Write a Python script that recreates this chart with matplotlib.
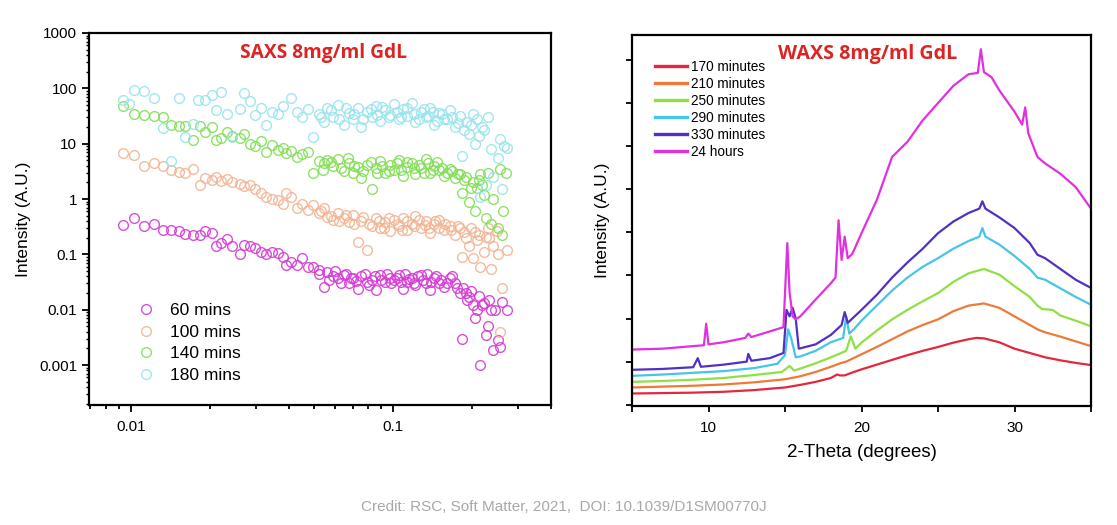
import numpy as np
import matplotlib
matplotlib.use("Agg")
import matplotlib.pyplot as plt
from matplotlib.ticker import FixedLocator, NullFormatter, LogLocator

plt.rcParams["font.family"] = ["Liberation Sans", "DejaVu Sans"]

# SAXS (q, intensity) pairs
saxs_60 = [
    (0.0093, 0.34), (0.0103, 0.45), (0.0112, 0.33), (0.0122, 0.35), (0.0132, 0.28),
    (0.0142, 0.28), (0.0153, 0.27), (0.0161, 0.23), (0.0172, 0.22), (0.0183, 0.22),
    (0.0192, 0.27), (0.0203, 0.24), (0.0211, 0.14), (0.0220, 0.16), (0.0232, 0.19),
    (0.0243, 0.14), (0.0260, 0.10), (0.0269, 0.15), (0.0284, 0.14), (0.0298, 0.13),
    (0.0313, 0.11), (0.0328, 0.10), (0.0344, 0.11), (0.0364, 0.105), (0.0380, 0.09),
    (0.0390, 0.064), (0.0409, 0.074), (0.0429, 0.064), (0.0450, 0.085), (0.0472, 0.06),
    (0.0494, 0.06), (0.0519, 0.052), (0.0544, 0.026), (0.0561, 0.049), (0.0589, 0.040),
    (0.0617, 0.037), (0.0647, 0.042), (0.0678, 0.030), (0.0700, 0.037), (0.0734, 0.024),
    (0.0757, 0.040), (0.0794, 0.032), (0.0832, 0.034), (0.0859, 0.023), (0.0887, 0.042),
    (0.0930, 0.032), (0.0975, 0.037), (0.1007, 0.034), (0.1055, 0.042), (0.109, 0.024),
    (0.1125, 0.032), (0.118, 0.037), (0.1216, 0.028), (0.1276, 0.042), (0.1337, 0.030),
    (0.138, 0.023), (0.1425, 0.037), (0.149, 0.030), (0.1567, 0.026), (0.164, 0.037),
    (0.172, 0.030), (0.180, 0.020), (0.183, 0.003), (0.189, 0.020), (0.195, 0.017),
    (0.202, 0.012), (0.205, 0.007), (0.208, 0.010), (0.215, 0.001), (0.222, 0.013),
    (0.225, 0.0035), (0.229, 0.005), (0.236, 0.010), (0.240, 0.0019), (0.252, 0.0028),
    (0.255, 0.0021), (0.259, 0.014), (0.272, 0.010),
    (0.052, 0.045), (0.057, 0.035), (0.060, 0.050), (0.063, 0.030), (0.066, 0.045),
    (0.069, 0.038), (0.072, 0.033), (0.078, 0.045), (0.081, 0.028), (0.085, 0.040),
    (0.090, 0.035), (0.095, 0.045), (0.098, 0.030), (0.103, 0.038), (0.107, 0.032),
    (0.111, 0.045), (0.115, 0.036), (0.120, 0.030), (0.124, 0.040), (0.130, 0.034),
    (0.135, 0.045), (0.140, 0.032), (0.146, 0.040), (0.152, 0.034), (0.160, 0.030),
    (0.168, 0.040), (0.175, 0.025), (0.185, 0.025), (0.192, 0.015), (0.198, 0.022),
    (0.212, 0.018), (0.218, 0.012), (0.232, 0.015), (0.245, 0.010),
]
saxs_100 = [
    (0.0093, 6.9), (0.0103, 6.2), (0.0112, 3.9), (0.0122, 4.5), (0.0132, 3.9),
    (0.0142, 3.4), (0.0153, 3.1), (0.0161, 2.9), (0.0172, 3.5), (0.0183, 1.8),
    (0.0192, 2.4), (0.0203, 2.2), (0.0211, 2.5), (0.0220, 2.1), (0.0232, 2.3),
    (0.0243, 2.0), (0.0260, 1.9), (0.0269, 1.7), (0.0284, 1.8), (0.0298, 1.5),
    (0.0313, 1.28), (0.0328, 1.1), (0.0344, 1.0), (0.0364, 0.97), (0.0380, 0.83),
    (0.0390, 1.3), (0.0409, 1.1), (0.0429, 0.68), (0.0450, 0.83), (0.0472, 0.63),
    (0.0494, 0.78), (0.0519, 0.55), (0.0544, 0.68), (0.0561, 0.48), (0.0589, 0.42),
    (0.0617, 0.55), (0.0647, 0.45), (0.0678, 0.38), (0.0700, 0.52), (0.0734, 0.17),
    (0.0757, 0.40), (0.0794, 0.12), (0.0832, 0.33), (0.0859, 0.45), (0.0887, 0.30),
    (0.0930, 0.38), (0.0975, 0.26), (0.1007, 0.42), (0.1055, 0.33), (0.109, 0.45),
    (0.1125, 0.28), (0.118, 0.36), (0.1216, 0.50), (0.1276, 0.30), (0.1337, 0.40),
    (0.138, 0.24), (0.1425, 0.35), (0.149, 0.42), (0.1567, 0.28), (0.164, 0.32),
    (0.172, 0.22), (0.180, 0.30), (0.183, 0.09), (0.189, 0.20), (0.195, 0.14),
    (0.202, 0.085), (0.205, 0.25), (0.208, 0.18), (0.215, 0.06), (0.222, 0.11),
    (0.225, 0.21), (0.229, 0.30), (0.236, 0.055), (0.240, 0.14), (0.252, 0.10),
    (0.255, 0.004), (0.259, 0.025), (0.272, 0.12),
    (0.053, 0.62), (0.058, 0.50), (0.062, 0.40), (0.066, 0.52), (0.071, 0.36),
    (0.077, 0.48), (0.081, 0.35), (0.088, 0.40), (0.092, 0.30), (0.096, 0.45),
    (0.104, 0.36), (0.108, 0.28), (0.113, 0.40), (0.120, 0.32), (0.126, 0.42),
    (0.132, 0.34), (0.137, 0.30), (0.144, 0.40), (0.150, 0.30), (0.158, 0.36),
    (0.166, 0.28), (0.176, 0.32), (0.186, 0.25), (0.198, 0.30), (0.212, 0.22),
    (0.232, 0.20), (0.248, 0.26),
]
saxs_140 = [
    (0.0093, 48), (0.0103, 35), (0.0112, 33), (0.0122, 31), (0.0132, 30),
    (0.0142, 22), (0.0153, 21), (0.0161, 21), (0.0172, 11.6), (0.0183, 21),
    (0.0192, 16.6), (0.0203, 20), (0.0211, 11.6), (0.0220, 12.5), (0.0232, 16.6),
    (0.0243, 14), (0.0260, 12.5), (0.0269, 15), (0.0284, 10), (0.0298, 8.9),
    (0.0313, 11), (0.0328, 7.2), (0.0344, 9.5), (0.0364, 7.7), (0.0380, 8.5),
    (0.0390, 6.7), (0.0409, 7.5), (0.0429, 5.8), (0.0450, 6.5), (0.0472, 7.0),
    (0.0494, 2.9), (0.0519, 4.8), (0.0544, 4.4), (0.0561, 5.0), (0.0589, 3.9),
    (0.0617, 5.3), (0.0647, 3.2), (0.0678, 4.5), (0.0700, 2.9), (0.0734, 3.8),
    (0.0757, 2.4), (0.0794, 4.2), (0.0832, 1.5), (0.0859, 3.6), (0.0887, 4.8),
    (0.0930, 3.0), (0.0975, 4.2), (0.1007, 3.4), (0.1055, 5.0), (0.109, 2.6),
    (0.1125, 3.8), (0.118, 4.4), (0.1216, 2.8), (0.1276, 3.6), (0.1337, 5.2),
    (0.138, 3.0), (0.1425, 4.0), (0.149, 3.3), (0.1567, 2.6), (0.164, 3.5),
    (0.172, 2.4), (0.180, 2.8), (0.183, 1.3), (0.189, 2.5), (0.195, 0.9),
    (0.202, 2.0), (0.205, 0.6), (0.208, 1.6), (0.215, 2.8), (0.222, 1.2),
    (0.225, 0.45), (0.229, 3.0), (0.236, 0.35), (0.240, 1.0), (0.252, 0.30),
    (0.255, 3.5), (0.259, 0.22), (0.262, 0.62), (0.270, 2.9),
    (0.054, 3.4), (0.058, 4.6), (0.063, 3.6), (0.067, 5.6), (0.071, 4.0),
    (0.077, 3.2), (0.082, 4.6), (0.087, 3.0), (0.091, 4.0), (0.096, 3.2),
    (0.103, 4.4), (0.107, 3.4), (0.113, 4.6), (0.120, 3.6), (0.125, 4.2),
    (0.131, 3.0), (0.136, 4.4), (0.142, 3.4), (0.147, 4.6), (0.153, 3.6),
    (0.160, 3.0), (0.168, 3.2), (0.176, 2.8), (0.186, 2.2), (0.198, 1.6),
    (0.212, 2.2), (0.218, 1.8),
]
saxs_180 = [
    (0.0093, 61), (0.0098, 52), (0.0103, 95), (0.0112, 88), (0.0122, 66),
    (0.0132, 19), (0.0142, 4.9), (0.0153, 66), (0.0161, 13.4), (0.0172, 23),
    (0.0180, 62), (0.0192, 61), (0.0203, 76), (0.0211, 40), (0.0220, 85),
    (0.0232, 35), (0.0243, 13.4), (0.0260, 43), (0.0269, 81), (0.0284, 60),
    (0.0298, 33), (0.0313, 45), (0.0328, 21.5), (0.0344, 38), (0.0364, 35),
    (0.0380, 48), (0.0409, 66), (0.0429, 38), (0.0450, 30), (0.0472, 42),
    (0.0494, 13.4), (0.0519, 35), (0.0544, 25), (0.0561, 44), (0.0589, 30),
    (0.0617, 50), (0.0647, 22), (0.0678, 36), (0.0700, 28), (0.0734, 45),
    (0.0757, 20), (0.0794, 38), (0.0832, 30), (0.0859, 48), (0.0887, 26),
    (0.0930, 40), (0.0975, 33), (0.1007, 52), (0.1055, 28), (0.109, 42),
    (0.1125, 32), (0.118, 55), (0.1216, 25), (0.1276, 38), (0.1337, 30),
    (0.138, 45), (0.1425, 22), (0.149, 36), (0.1567, 28), (0.164, 40),
    (0.172, 20), (0.180, 32), (0.183, 6.0), (0.189, 25), (0.195, 15),
    (0.202, 35), (0.205, 10), (0.208, 28), (0.215, 1.1), (0.222, 18),
    (0.225, 1.8), (0.229, 30), (0.236, 8.0), (0.240, 2.5), (0.252, 5.5),
    (0.255, 12), (0.259, 1.5), (0.265, 9.0), (0.272, 8.5),
    (0.053, 30), (0.058, 40), (0.062, 28), (0.066, 44), (0.071, 34),
    (0.077, 28), (0.082, 42), (0.087, 33), (0.091, 46), (0.096, 30),
    (0.103, 38), (0.107, 30), (0.113, 44), (0.120, 34), (0.125, 28),
    (0.131, 42), (0.136, 32), (0.142, 38), (0.147, 26), (0.153, 34),
    (0.160, 28), (0.168, 30), (0.176, 24), (0.186, 18), (0.198, 22),
    (0.212, 14), (0.218, 20),
]
saxs_labels = ["60 mins", "100 mins", "140 mins", "180 mins"]
saxs_colors = ["#d43cd4", "#f2b594", "#84de58", "#98e4ee"]

# WAXS traces (2-theta, intensity in arbitrary units)
x_170 = [5, 7, 9, 11, 13, 15, 16, 17, 18, 18.4, 18.6, 18.9, 19.5, 20, 21, 22, 23, 24, 25, 26,
         27, 27.5, 28, 29, 30, 31, 31.5, 32, 33, 34, 35]
y_170 = [0.26, 0.27, 0.28, 0.30, 0.34, 0.40, 0.46, 0.53, 0.62, 0.70, 0.68, 0.68, 0.76, 0.82,
         0.93, 1.04, 1.15, 1.25, 1.34, 1.44, 1.52, 1.55, 1.54, 1.45, 1.30, 1.20, 1.15, 1.10,
         1.03, 0.97, 0.92]
x_210 = [5, 7, 9, 11, 13, 15, 16, 17, 18, 18.6, 19, 20, 21, 22, 23, 24, 25, 26, 27, 28,
         29, 30, 31, 31.5, 31.7, 32, 33, 34, 35]
y_210 = [0.40, 0.42, 0.44, 0.47, 0.52, 0.59, 0.66, 0.76, 0.88, 0.96, 1.00, 1.17, 1.34, 1.52,
         1.70, 1.85, 1.98, 2.17, 2.30, 2.35, 2.25, 2.05, 1.85, 1.75, 1.72, 1.68, 1.58, 1.47, 1.36]
x_250 = [5, 7, 9, 11, 13, 14.8, 15.3, 15.6, 17, 18, 19, 19.3, 19.6, 20, 21, 22, 23, 24, 25, 26,
         27, 28, 29, 30, 31, 31.5, 31.8, 32.5, 33, 34, 35]
y_250 = [0.53, 0.55, 0.58, 0.62, 0.69, 0.76, 0.90, 0.79, 0.96, 1.10, 1.25, 1.59, 1.30, 1.44,
         1.72, 1.98, 2.20, 2.40, 2.59, 2.85, 3.05, 3.15, 3.02, 2.75, 2.50, 2.30, 2.22, 2.20,
         2.07, 1.95, 1.82]
x_290 = [5, 7, 9, 11, 13, 14.5, 15.0, 15.2, 15.4, 15.7, 16.0, 17, 18, 18.8, 19.0, 19.2, 19.5,
         20, 21, 22, 23, 24, 25, 26, 27, 27.7, 27.9, 28.1, 29, 30, 31, 31.5, 32, 33, 34, 35]
y_290 = [0.67, 0.70, 0.74, 0.78, 0.85, 0.95, 1.15, 1.75, 1.55, 1.10, 1.12, 1.25, 1.45, 1.55,
         2.05, 1.65, 1.75, 1.95, 2.30, 2.65, 2.95, 3.20, 3.40, 3.62, 3.80, 3.90, 4.10, 3.90,
         3.72, 3.45, 3.15, 2.95, 2.90, 2.70, 2.50, 2.32]
x_330 = [5, 7, 9, 9.3, 9.5, 11, 12.5, 12.6, 12.8, 14, 14.9, 15.1, 15.3, 15.5, 15.7, 15.9, 17,
         18, 18.7, 18.9, 19.1, 20, 21, 22, 23, 24, 25, 26, 27, 27.7, 27.9, 28.1, 29, 30, 31,
         31.5, 32, 33, 34, 35]
y_330 = [0.81, 0.83, 0.87, 1.08, 0.88, 0.93, 1.00, 1.18, 1.02, 1.08, 1.20, 2.20, 2.05, 2.25,
         2.00, 1.30, 1.40, 1.62, 1.85, 2.15, 1.90, 2.20, 2.55, 2.95, 3.30, 3.62, 3.98, 4.25,
         4.45, 4.55, 4.72, 4.55, 4.35, 4.10, 3.75, 3.48, 3.40, 3.15, 2.90, 2.71]
x_24h = [5, 7, 9, 9.7, 9.85, 10.0, 11, 12.4, 12.6, 12.8, 14, 14.9, 15.15, 15.3, 15.5, 15.7, 16,
         17, 18, 18.3, 18.5, 18.7, 18.9, 19.1, 19.4, 20, 21, 22, 23, 24, 25, 26, 27, 27.6, 27.8,
         28.0, 28.5, 29, 30, 30.5, 30.7, 30.9, 31.5, 32, 33, 34, 35]
y_24h = [1.28, 1.30, 1.36, 1.38, 1.88, 1.40, 1.45, 1.55, 1.65, 1.57, 1.70, 1.80, 3.75, 2.60,
         2.05, 1.98, 2.05, 2.44, 2.82, 2.95, 4.28, 3.36, 3.90, 3.40, 3.50, 3.98, 4.75, 5.75,
         6.10, 6.60, 7.00, 7.40, 7.67, 7.70, 8.25, 7.72, 7.60, 7.30, 6.80, 6.50, 6.90, 6.30,
         5.75, 5.60, 5.36, 5.05, 4.55]
waxs_labels = ["170 minutes", "210 minutes", "250 minutes", "290 minutes", "330 minutes", "24 hours"]
waxs_colors = ["#e3283e", "#ee7a3a", "#8ee045", "#45c6e6", "#5330c4", "#e030e0"]

W, H = 1117, 525
fig = plt.figure(figsize=(W / 100, H / 100), dpi=100)
TITLE_RED = "#dc2424"


def frac(x0, y0, x1, y1):
    return [x0 / W, 1 - y1 / H, (x1 - x0) / W, (y1 - y0) / H]


# ---- SAXS panel
ax1 = fig.add_axes(frac(89, 33, 551, 405))
for data, col, lab in zip([saxs_60, saxs_100, saxs_140, saxs_180], saxs_colors, saxs_labels):
    q, inten = zip(*data)
    ax1.plot(q, inten, linestyle="none", marker="o", markersize=7, markerfacecolor="none",
             markeredgecolor=col, markeredgewidth=1.0, alpha=0.9, label=lab)
ax1.set_xscale("log")
ax1.set_yscale("log")
ax1.set_xlim(0.00691, 0.40)
ax1.set_ylim(1.9e-4, 1000)
ax1.yaxis.set_major_locator(FixedLocator([0.001, 0.01, 0.1, 1, 10, 100, 1000]))
ax1.set_yticklabels(["0.001", "0.01", "0.1", "1", "10", "100", "1000"])
ax1.yaxis.set_minor_locator(LogLocator(base=10, subs=np.arange(2, 10), numticks=20))
ax1.yaxis.set_minor_formatter(NullFormatter())
ax1.xaxis.set_major_locator(FixedLocator([0.01, 0.1]))
ax1.set_xticklabels(["0.01", "0.1"])
ax1.xaxis.set_minor_locator(LogLocator(base=10, subs=np.arange(2, 10), numticks=20))
ax1.xaxis.set_minor_formatter(NullFormatter())
ax1.tick_params(axis="y", which="major", direction="out", length=5, width=1.3, labelsize=11)
ax1.tick_params(axis="y", which="minor", direction="out", length=2.5, width=1.0)
ax1.tick_params(axis="x", which="major", direction="out", length=5, width=1.3, labelsize=11, pad=6)
ax1.tick_params(axis="x", which="minor", direction="out", length=3, width=1.3)
for s in ax1.spines.values():
    s.set_linewidth(1.6)
ax1.set_ylabel("Intensity (A.U.)", fontsize=12.5, labelpad=6)
ax1.legend(loc="upper left", bbox_to_anchor=(0.085, 0.298), frameon=False, fontsize=12.5,
           handlelength=1.0, handletextpad=0.9, labelspacing=0.38, borderpad=0)
fig.text(323 / W, 1 - 53 / H, "SAXS 8mg/ml GdL", color=TITLE_RED, fontsize=13.8,
         fontweight="bold", family="Open Sans", ha="center", va="center")

# ---- WAXS panel
ax2 = fig.add_axes(frac(632, 35, 1091, 406))
waxs = [(x_170, y_170), (x_210, y_210), (x_250, y_250), (x_290, y_290), (x_330, y_330), (x_24h, y_24h)]
for (xs, ys), col, lab in zip(waxs, waxs_colors, waxs_labels):
    ax2.plot(xs, ys, color=col, linewidth=1.6, label=lab)
ax2.set_xlim(5, 35)
ax2.set_ylim(-0.03, 8.58)
ax2.set_yticks(range(0, 9))
ax2.set_yticklabels([])
ax2.set_xticks([10, 20, 30])
ax2.set_xticks([5, 15, 25, 35], minor=True)
ax2.tick_params(axis="both", which="both", direction="out", length=4.5, width=1.3)
ax2.tick_params(axis="x", labelsize=11, pad=6)
for s in ax2.spines.values():
    s.set_linewidth(1.6)
ax2.set_ylabel("Intensity (A.U.)", fontsize=12.5, labelpad=8)
ax2.set_xlabel("2-Theta (degrees)", fontsize=13.5, labelpad=7)
leg2 = ax2.legend(loc="upper left", bbox_to_anchor=(0.035, 0.951), frameon=False, fontsize=9.8,
                  handlelength=2.35, handletextpad=0.3, labelspacing=0.22, borderpad=0)
for ln in leg2.get_lines():
    ln.set_linewidth(2.4)
fig.text(868 / W, 1 - 54 / H, "WAXS 8mg/ml GdL", color=TITLE_RED, fontsize=14.2,
         fontweight="bold", family="Open Sans", ha="center", va="center")

fig.text(564 / W, 1 - 507 / H, "Credit: RSC, Soft Matter, 2021,  DOI: 10.1039/D1SM00770J",
         color="#a8a8a8", fontsize=11, ha="center", va="center")

fig.savefig("out.png", dpi=100)
